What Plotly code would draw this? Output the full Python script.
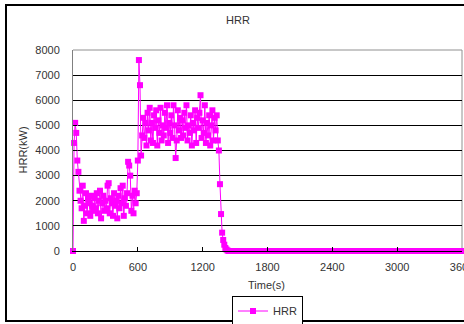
import plotly.graph_objects as go

# Time (s) for the active part of the fire (10 s steps) and the tail (20 s steps)
time_active = list(range(0, 1440, 10))
time_tail = list(range(1440, 3601, 20))

hrr_active = [
    0, 4300, 5100, 4700, 3600, 3150, 2400, 2000, 1700, 2600,
    1200, 1800, 2300, 1500, 2100, 1900, 1400, 2200, 1800, 1600,
    2100, 1700, 2300, 1500, 2000, 2400, 1300, 1900, 2200, 1600,
    2000, 1700, 2600, 2700, 1500, 2100, 1900, 1400, 2300, 1800,
    2000, 1300, 2200, 1700, 2500, 1900, 2600, 1400, 2100, 1800,
    2300, 3550, 3400, 3000, 1600, 2200, 1500, 2400, 1900, 2300,
    3600, 7600, 6600, 3800, 4600, 5300, 4500, 5100, 4200, 5500,
    4800, 5700, 4400, 5100, 4300, 5400, 4900, 5600, 4200, 5200,
    4700, 5700, 4400, 5000, 4600, 5500, 4900, 5800, 4300, 5100,
    4700, 5400, 4500, 5800, 5000, 3700, 4400, 5600, 4800, 5300,
    4500, 5200, 4600, 5500, 4900, 5800, 4400, 5000, 4700, 5400,
    4200, 5100, 4800, 5600, 4300, 5300, 4900, 5500, 6200, 4500,
    5200, 4700, 5800, 4300, 5100, 4600, 5400, 4200, 5000, 5600,
    4400, 5300, 4800, 5400, 4400, 4000, 2660, 1470, 730, 440,
    250, 120, 60, 20,
]
hrr_tail = [
    0, 0, 0, 0, 0, 0, 0, 0, 0, 0, 0, 0, 0, 0, 0, 0, 0, 0, 0, 0,
    0, 0, 0, 0, 0, 0, 0, 0, 0, 0, 0, 0, 0, 0, 0, 0, 0, 0, 0, 0,
    0, 0, 0, 0, 0, 0, 0, 0, 0, 0, 0, 0, 0, 0, 0, 0, 0, 0, 0, 0,
    0, 0, 0, 0, 0, 0, 0, 0, 0, 0, 0, 0, 0, 0, 0, 0, 0, 0, 0, 0,
    0, 0, 0, 0, 0, 0, 0, 0, 0, 0, 0, 0, 0, 0, 0, 0, 0, 0, 0, 0,
    0, 0, 0, 0, 0, 0, 0, 0, 0,
]

x_ticks = [0, 600, 1200, 1800, 2400, 3000, 3600]
y_ticks = [0, 1000, 2000, 3000, 4000, 5000, 6000, 7000, 8000]

time_s = time_active + time_tail
hrr = hrr_active + hrr_tail

FONT = "Liberation Sans, Arial, sans-serif"
TXT = "#333333"

fig = go.Figure()
fig.add_trace(go.Scatter(
    x=time_s, y=hrr, name="HRR", mode="lines+markers",
    line=dict(color="#FF00FF", width=1),
    marker=dict(symbol="square", size=6, color="#FF00FF"),
    cliponaxis=False,
))

fig.update_layout(
    width=464, height=324,
    margin=dict(l=73, r=2, t=50, b=73, autoexpand=False),
    paper_bgcolor="white", plot_bgcolor="white",
    font=dict(family=FONT, size=11, color=TXT),
    title=dict(text="HRR", x=238 / 464, xref="container", xanchor="center",
               y=1 - 20 / 324, yref="container", yanchor="middle",
               font=dict(size=11, color=TXT)),
    showlegend=True,
    legend=dict(orientation="h", x=0.5, xanchor="center",
                y=-(311 - 251) / 201, yanchor="middle",
                bordercolor="black", borderwidth=1, bgcolor="white",
                font=dict(size=11, color=TXT), itemwidth=30),
    xaxis=dict(range=[0, 3600], tickvals=x_ticks, ticktext=[str(v) for v in x_ticks],
               showgrid=False, zeroline=False, showline=True, linecolor="black",
               linewidth=1, ticks="inside", ticklen=4, tickcolor="black",
               ticklabelstandoff=6, ticklabeloverflow="allow"),
    yaxis=dict(range=[0, 8000], tickvals=y_ticks, showgrid=True, gridcolor="black",
               gridwidth=1, zeroline=False, showline=True, linecolor="#808080",
               linewidth=1, ticks="inside", ticklen=4, tickcolor="black",
               ticklabelstandoff=10),
    shapes=[
        dict(type="rect", xref="paper", yref="paper",
             x0=(6 - 73) / 389, x1=1.05, y0=-(321 - 251) / 201, y1=1 + (50 - 5) / 201,
             line=dict(color="black", width=2), layer="below"),
        dict(type="line", xref="paper", yref="paper", x0=0, x1=1, y0=1, y1=1,
             line=dict(color="#909090", width=1), layer="above"),
        dict(type="line", xref="paper", yref="paper", x0=1, x1=1, y0=0, y1=1,
             line=dict(color="#909090", width=1), layer="below"),
    ],
    annotations=[
        dict(text="HRR(kW)", xref="paper", yref="paper", x=(22 - 73) / 389, y=0.5,
             textangle=-90, showarrow=False, xanchor="center", yanchor="middle",
             font=dict(size=11, color=TXT)),
        dict(text="Time(s)", xref="paper", yref="paper", x=(266 - 73) / 389,
             y=-(285 - 251) / 201, showarrow=False, xanchor="center", yanchor="middle",
             font=dict(size=11, color=TXT)),
    ],
)

fig.write_html("out.html", config={"displayModeBar": False},
               post_script="document.body.style.margin='0px';")
